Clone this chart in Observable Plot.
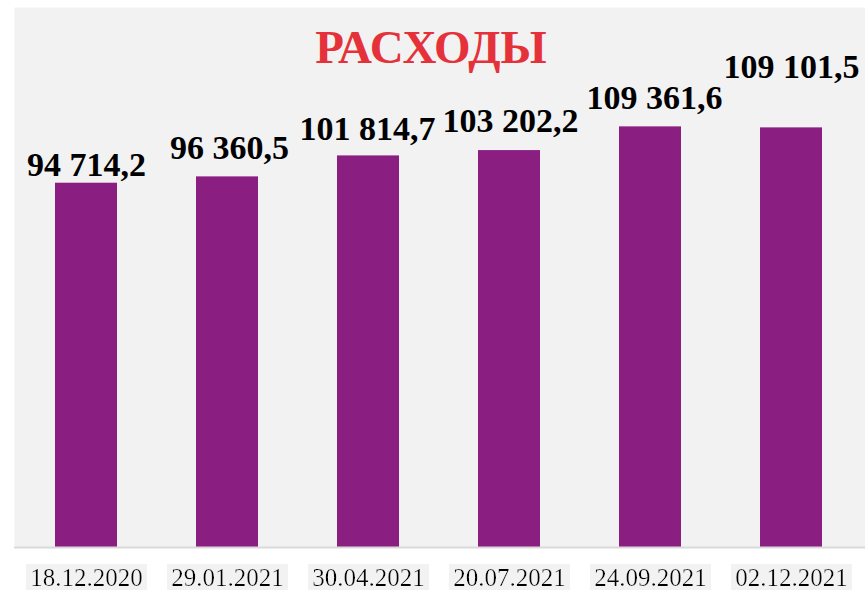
<!DOCTYPE html>
<html>
<head>
<meta charset="utf-8">
<script src="https://cdn.jsdelivr.net/npm/d3@7"></script>
<script src="https://cdn.jsdelivr.net/npm/@observablehq/plot@0.6"></script>
<style>
  html, body { margin: 0; padding: 0; background: #ffffff; }
  #chart svg { display: block; }
</style>
</head>
<body>
<div id="chart"></div>
<script>
// ---- data ----
const title = "РАСХОДЫ";
const dates = ["18.12.2020", "29.01.2021", "30.04.2021", "20.07.2021", "24.09.2021", "02.12.2021"];
const expenses = [94714.2, 96360.5, 101814.7, 103202.2, 109361.6, 109101.5];

// ---- rendering ----
const rows = dates.map((d, i) => ({date: d, value: expenses[i]}));
const fmt = d3.formatLocale({decimal: ",", thousands: " ", grouping: [3], currency: ["", ""]}).format(",.1f");

// manual label nudges (px) as placed in the original
const labelLift = [7.7, 17.7, 15.7, 19, 17.7, 50];
const labelShift = [0, 2, -1, 1, 4, 0];

const serif = "'Liberation Serif', 'Times New Roman', Times, serif";

const valueLabels = rows.map((r, i) => Plot.text([r], {
  x: "date", y: "value", text: d => fmt(d.value),
  lineAnchor: "bottom", textAnchor: "middle",
  dy: -labelLift[i], dx: labelShift[i],
  fontFamily: serif, fontWeight: "bold", fontSize: 34, fill: "#000"
}));

const chart = Plot.plot({
  width: 865,
  height: 590,
  marginLeft: 14,
  marginRight: 0,
  marginTop: 7,
  marginBottom: 43,
  style: {fontFamily: serif, background: "#ffffff", overflow: "visible"},
  x: {domain: dates, paddingInner: 0.561, paddingOuter: 0.294, align: 0.482, label: null},
  y: {domain: [0, 140400], axis: null},
  marks: [
    Plot.frame({fill: "#f2f2f2", stroke: null}),
    Plot.barY(rows, {x: "date", y: "value", fill: "#8b1e81"}),
    Plot.ruleY([0], {stroke: "#d9d9d9", strokeWidth: 2}),
    Plot.axisX({tickSize: 0, tickPadding: 21, fontSize: 25, fontFamily: serif, fill: "#000", label: null}),
    ...valueLabels,
    Plot.text([title], {
      frameAnchor: "top", dx: -9, dy: 55.7, lineAnchor: "bottom",
      fontFamily: serif, fontWeight: "bold", fontSize: 47, fill: "#e5323a"
    })
  ]
});

// light grey boxes behind the date labels
const ns = "http://www.w3.org/2000/svg";
const defs = document.createElementNS(ns, "defs");
defs.innerHTML = '<filter id="tickbg" x="-0.03" y="0" width="1.06" height="1"><feFlood flood-color="#f2f2f2"/><feComposite in="SourceGraphic" operator="over"/></filter>';
chart.insertBefore(defs, chart.firstChild);
chart.querySelectorAll('g[aria-label="x-axis tick label"] text').forEach(t => t.setAttribute("filter", "url(#tickbg)"));

document.getElementById("chart").appendChild(chart);
</script>
</body>
</html>
